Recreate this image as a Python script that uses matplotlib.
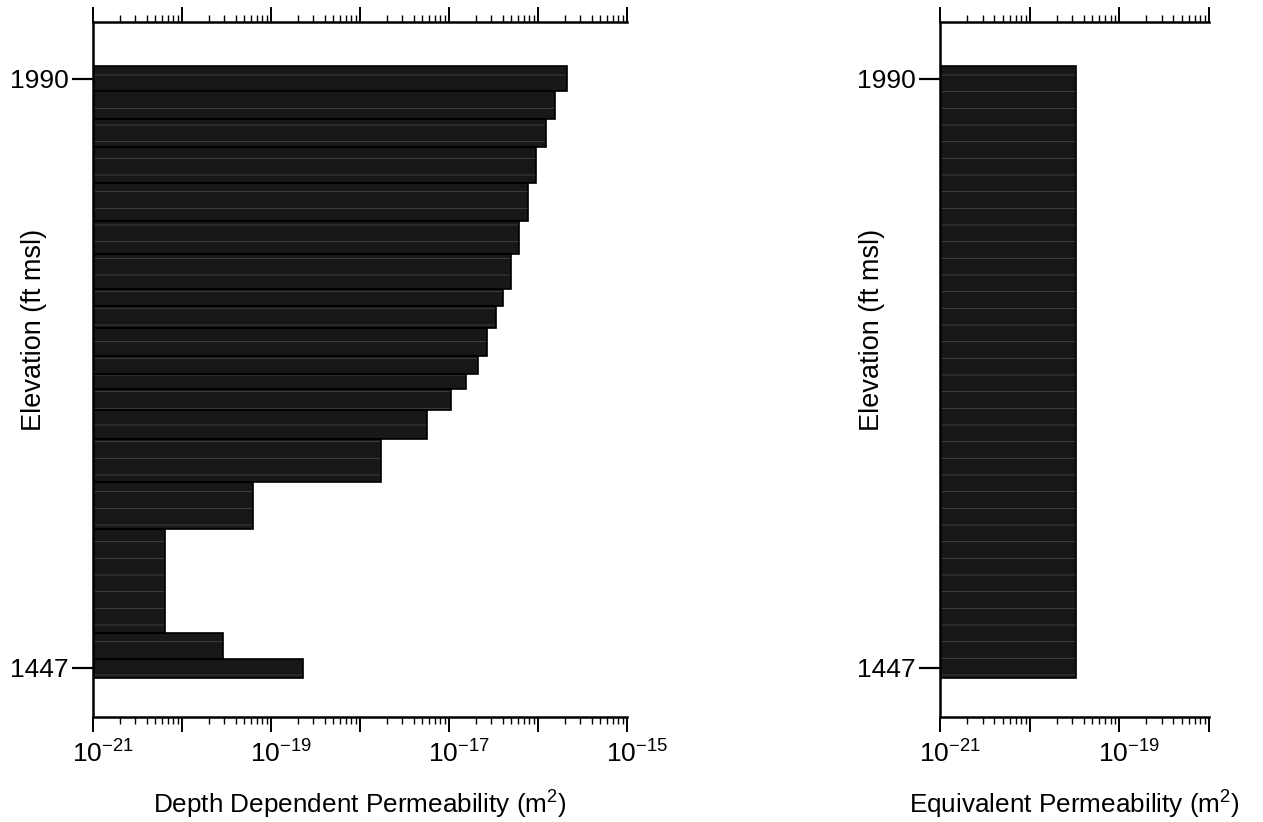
import matplotlib
matplotlib.use("Agg")
import matplotlib.pyplot as plt
import matplotlib.transforms as mtransforms
from matplotlib.ticker import LogLocator, NullFormatter, FixedLocator, FuncFormatter
import numpy as np

# ---- data ----
layer_bounds = [2002, 1979, 1953, 1927, 1894, 1859, 1829, 1796, 1781, 1760,
                1735, 1718, 1704, 1685, 1658, 1618, 1575, 1479, 1455, 1438]
depth_perm = [2.1e-16, 1.55e-16, 1.23e-16, 9.5e-17, 7.8e-17, 6.1e-17, 5.0e-17,
              4.0e-17, 3.4e-17, 2.7e-17, 2.1e-17, 1.56e-17, 1.04e-17, 5.6e-18,
              1.74e-18, 6.2e-20, 6.4e-21, 2.9e-20, 2.3e-19]
equiv_perm = 3.3e-20
elev_ticks = [1990, 1447]
left_decades = [-21, -20, -19, -18, -17, -16, -15]
right_decades = [-21, -20, -19, -18]
labeled_exponents = [-21, -19, -17, -15]

plt.rcParams["font.family"] = ["Liberation Sans", "DejaVu Sans"]
plt.rcParams["mathtext.fontset"] = "custom"
plt.rcParams["mathtext.rm"] = "Liberation Sans"
plt.rcParams["mathtext.it"] = "Liberation Sans:italic"
plt.rcParams["mathtext.bf"] = "Liberation Sans:bold"
plt.rcParams["hatch.linewidth"] = 0.6

fig = plt.figure(figsize=(12.63, 8.22), dpi=100)
ax1 = fig.add_axes([0.07363, 0.12774, 0.4228, 0.8455])
ax2 = fig.add_axes([0.74426, 0.12774, 0.21298, 0.8455])

tops = np.array(layer_bounds[:-1])
bots = np.array(layer_bounds[1:])
heights = tops - bots

BAR = "#171717"
HATCH = "#464646"
label_shift = mtransforms.ScaledTranslation(10 / 100, 0, fig.dpi_scale_trans)


def decade_fmt(val, pos):
    e = int(round(np.log10(val)))
    if e in labeled_exponents:
        return r"$10^{%d}$" % e
    return ""


def style(ax, decades, label_x):
    ax.set_xscale("log")
    ax.set_xlim(10.0 ** decades[0], 10.0 ** decades[-1])
    ax.set_ylim(1401.8, 2042.5)
    for s in ["left", "top", "bottom"]:
        ax.spines[s].set_linewidth(1.8)
    ax.spines["right"].set_visible(False)
    ax.xaxis.set_ticks_position("both")
    ax.xaxis.set_major_locator(FixedLocator([10.0 ** e for e in decades]))
    ax.xaxis.set_minor_locator(LogLocator(base=10, subs=np.arange(2, 10), numticks=100))
    ax.xaxis.set_major_formatter(FuncFormatter(decade_fmt))
    ax.xaxis.set_minor_formatter(NullFormatter())
    ax.tick_params(axis="x", which="major", direction="out", length=11, width=1.4,
                   labelsize=19, pad=6)
    ax.tick_params(axis="x", which="minor", direction="out", length=5, width=1.0)
    ax.yaxis.set_major_locator(FixedLocator(elev_ticks))
    ax.tick_params(axis="y", which="major", direction="out", length=15, width=1.6,
                   labelsize=19, pad=2.5)
    ax.tick_params(axis="y", which="minor", left=False)
    ax.set_ylabel("Elevation (ft msl)", fontsize=19.5)
    ax.yaxis.set_label_coords(label_x, 0.557)
    for tick in ax.xaxis.get_major_ticks():
        tick.label1.set_transform(tick.label1.get_transform() + label_shift)


# left panel: depth-dependent permeability
x0 = 10.0 ** left_decades[0]
ax1.barh(bots, np.array(depth_perm) - x0, left=x0, height=heights, align="edge",
         color=BAR, edgecolor=HATCH, hatch="-", linewidth=0)
ax1.barh(bots, np.array(depth_perm) - x0, left=x0, height=heights, align="edge",
         fill=False, edgecolor="black", linewidth=1.2)
style(ax1, left_decades, -0.0862)
ax1.set_xlabel(r"Depth Dependent Permeability (m$^2$)", fontsize=18.8, labelpad=15)

# right panel: equivalent permeability
x0 = 10.0 ** right_decades[0]
eq = np.full(len(heights), equiv_perm)
ax2.barh(bots, eq - x0, left=x0, height=heights, align="edge",
         color=BAR, edgecolor=HATCH, hatch="-", linewidth=0)
ax2.barh([layer_bounds[-1]], [equiv_perm - x0], left=x0,
         height=[layer_bounds[0] - layer_bounds[-1]], align="edge",
         fill=False, edgecolor="black", linewidth=1.2)
style(ax2, right_decades, -0.2044)
ax2.set_xlabel(r"Equivalent Permeability (m$^2$)", fontsize=18.8, labelpad=15)

fig.savefig("out.png", dpi=100)
